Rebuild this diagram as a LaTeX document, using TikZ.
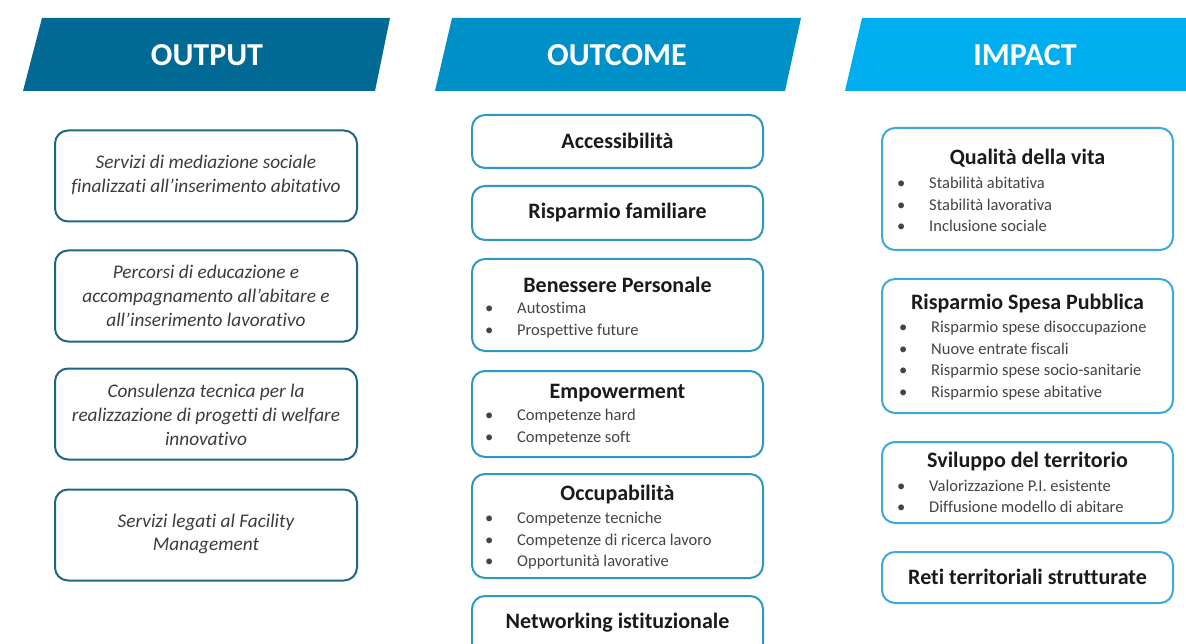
\documentclass[tikz,border=0pt]{standalone}
\usepackage{fontspec}
\setmainfont[Ligatures={TeX,NoCommon}]{Carlito}
\definecolor{hdrA}{HTML}{006A94}
\definecolor{hdrB}{HTML}{0090C8}
\definecolor{hdrC}{HTML}{00AEEF}
\definecolor{lborder}{HTML}{1F6685}
\definecolor{mborder}{HTML}{2E97C2}
\definecolor{rborder}{HTML}{3AAADB}
\definecolor{titlec}{HTML}{1A1A1A}
\definecolor{itemc}{HTML}{444444}
\tikzset{
  boxbase/.style={line width=2pt, rounded corners=13pt, fill=white, inner sep=0pt},
  lbox/.style={boxbase, draw=lborder, minimum width=302pt, minimum height=91pt},
  mbox/.style={boxbase, draw=mborder, minimum width=291pt},
  rbox/.style={boxbase, draw=rborder, minimum width=291pt},
  hdrtext/.style={text=white, font=\fontsize{32}{36}\selectfont\bfseries, inner sep=0pt},
  ltext/.style={align=center, text=titlec!85, font=\fontsize{19.3}{23.8}\selectfont\itshape, inner sep=0pt},
  btitle/.style={text=titlec, font=\fontsize{22}{24}\selectfont\bfseries, inner sep=0pt},
  blist/.style={align=left, text=itemc, font=\fontsize{16.5}{21.5}\selectfont, inner sep=0pt, anchor=west},
}
\newcommand{\itm}[1]{\makebox[32pt][l]{\textbullet}#1}
\begin{document}
\begin{tikzpicture}[x=1pt,y=-1pt]
\useasboundingbox (0,0) rectangle (1186,644);
% headers
\fill[hdrA] (42,18) -- (390,18) -- (375,91) -- (23,91) -- cycle;
\fill[hdrB] (452,18) -- (801,18) -- (785,91) -- (435,91) -- cycle;
\fill[hdrC] (862,18) -- (1190,18) -- (1190,91) -- (845,91) -- cycle;
\node[hdrtext] (h1) at (207,55) {OUTPUT};
\node[hdrtext] (h2) at (617,55) {OUTCOME};
\node[hdrtext] (h3) at (1025,55) {IMPACT};
% left column
\node[lbox] (o1) at (206,176) {};
\node[ltext] (o1t) at (206,175) {Servizi di mediazione sociale\\finalizzati all'inserimento abitativo};
\node[lbox] (o2) at (206,296) {};
\node[ltext] (o2t) at (206,296) {Percorsi di educazione e\\accompagnamento all’abitare e\\all’inserimento lavorativo};
\node[lbox] (o3) at (206,414) {};
\node[ltext] (o3t) at (206,415) {Consulenza tecnica per la\\realizzazione di progetti di welfare\\innovativo};
\node[lbox] (o4) at (206,535) {};
\node[ltext] (o4t) at (206,534) {Servizi legati al Facility\\Management};
% middle column
\node[mbox, minimum height=53pt] (m1) at (617.5,141.5) {};
\node[btitle] (m1t) at (617.5,141) {Accessibilità};
\node[mbox, minimum height=54pt] (m2) at (617.5,213) {};
\node[btitle] (m2t) at (617.5,213) {Risparmio familiare};
\node[mbox, minimum height=92pt] (m3) at (617.5,305) {};
\node[btitle] (m3t) at (617.5,285) {Benessere Personale};
\node[blist] (m3l) at (485,320) {\itm{Autostima}\\\itm{Prospettive future}};
\node[mbox, minimum height=86pt] (m4) at (617.5,414) {};
\node[btitle] (m4t) at (617.5,393) {Empowerment};
\node[blist] (m4l) at (485,427) {\itm{Competenze hard}\\\itm{Competenze soft}};
\node[mbox, minimum height=104pt] (m5) at (617.5,526) {};
\node[btitle] (m5t) at (617.5,495) {Occupabilità};
\node[blist] (m5l) at (485,541) {\itm{Competenze tecniche}\\\itm{Competenze di ricerca lavoro}\\\itm{Opportunità lavorative}};
\node[mbox, minimum height=60pt] (m6) at (617.5,626) {};
\node[btitle] (m6t) at (617.5,623) {Networking istituzionale};
% right column
\node[rbox, minimum height=122pt] (r1) at (1027.5,189) {};
\node[btitle] (r1t) at (1027.5,158) {Qualità della vita};
\node[blist] (r1l) at (897,204.5) {\itm{Stabilità abitativa}\\\itm{Stabilità lavorativa}\\\itm{Inclusione sociale}};
\node[rbox, minimum height=134pt] (r2) at (1027.5,346) {};
\node[btitle] (r2t) at (1027.5,304) {Risparmio Spesa Pubblica};
\node[blist] (r2l) at (899,360.5) {\itm{Risparmio spese disoccupazione}\\\itm{Nuove entrate fiscali}\\\itm{Risparmio spese socio-sanitarie}\\\itm{Risparmio spese abitative}};
\node[rbox, minimum height=81pt] (r3) at (1027.5,482.5) {};
\node[btitle] (r3t) at (1027.5,462) {Sviluppo del territorio};
\node[blist] (r3l) at (897,496.5) {\itm{Valorizzazione P.I. esistente}\\\itm{Diffusione modello di abitare}};
\node[rbox, minimum height=51pt] (r4) at (1027.5,577.5) {};
\node[btitle] (r4t) at (1027.5,577) {Reti territoriali strutturate};
\end{tikzpicture}
\end{document}
